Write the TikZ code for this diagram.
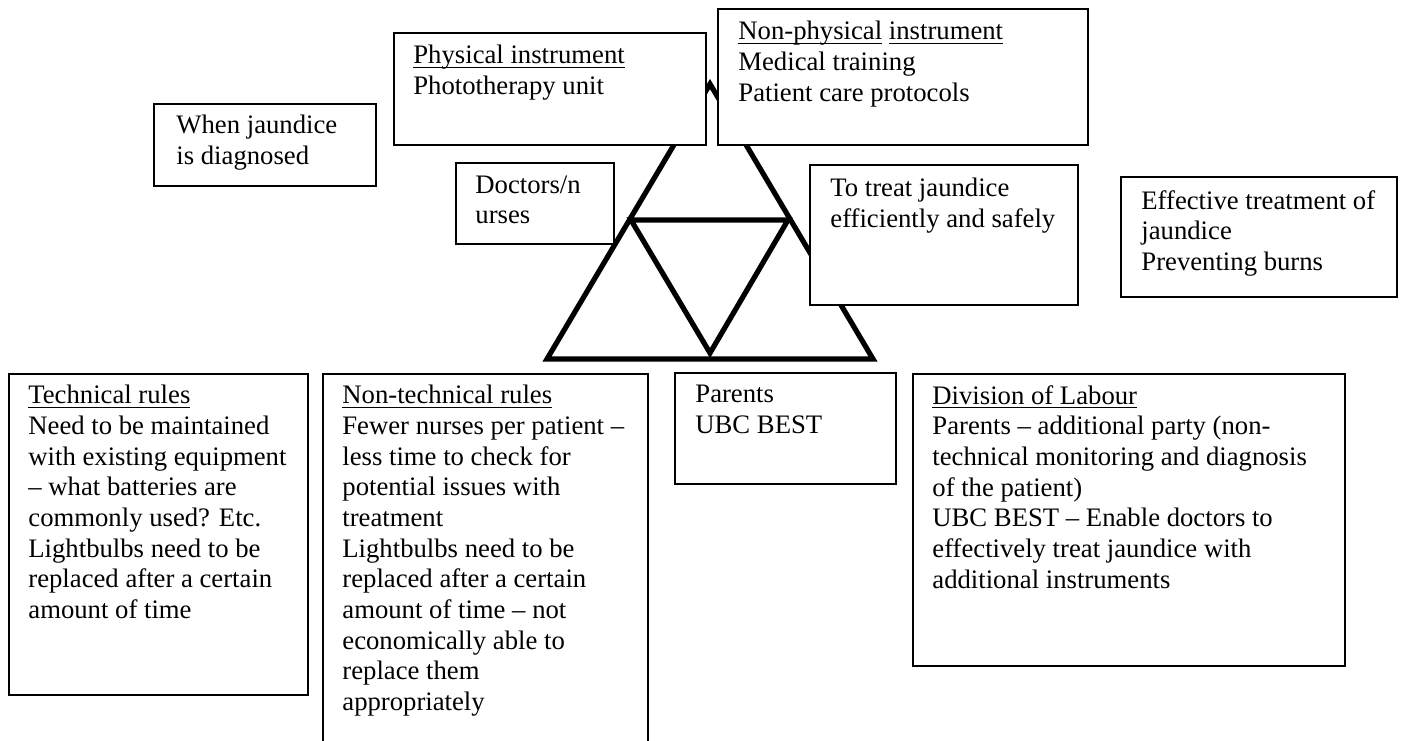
\documentclass[tikz,border=0pt]{standalone}
\usepackage{fontspec}
\setmainfont{Liberation Serif}
\newcommand\ulin[1]{\setbox0=\hbox{#1}\rlap{\rule[-2pt]{\wd0}{0.55pt}}\box0\relax}
\begin{document}
\begin{tikzpicture}[x=0.5pt,y=-0.5pt,
  panel/.style={draw, fill=white, line width=0.9pt, anchor=north west, inner sep=0pt},
  txt/.style={anchor=north west, inner sep=0pt, align=left,
    font=\fontsize{13.35pt}{15.33pt}\selectfont,
    execute at begin node={\rule{0pt}{11pt}}},
  tri/.style={line width=2.6pt, line join=miter}]
  \useasboundingbox[fill=white] (0,0) rectangle (1403,740);

  % activity triangle
  \coordinate (apex) at (710,84);
  \coordinate (bl) at (547,359);
  \coordinate (br) at (873,359);
  \coordinate (il) at (631,220);
  \coordinate (ir) at (788,220);
  \coordinate (ib) at (710,353);
  \draw[tri] (bl) -- (apex) -- (br) -- cycle;
  \draw[tri] (il) -- (ir) -- (ib) -- cycle;

  % panels
  \node[panel, minimum width=156pt, minimum height=56pt] (phys) at (393,32) {};
  \node[panel, minimum width=185pt, minimum height=68pt] (nonphys) at (717,8) {};
  \node[panel, minimum width=111pt, minimum height=41pt] (when) at (153,103) {};
  \node[panel, minimum width=79pt, minimum height=40.5pt] (doc) at (455,162) {};
  \node[panel, minimum width=134pt, minimum height=70pt] (treat) at (809,164) {};
  \node[panel, minimum width=138pt, minimum height=60pt] (effect) at (1120,176) {};
  \node[panel, minimum width=149.5pt, minimum height=160.5pt] (tech) at (8,373) {};
  \node[panel, minimum width=162.5pt, minimum height=195pt] (nontech) at (322,373) {};
  \node[panel, minimum width=110.5pt, minimum height=55.5pt] (parents) at (674,372) {};
  \node[panel, minimum width=216pt, minimum height=146pt] (div) at (912,373) {};

  % panel texts
  \node[txt] (phys-t) at (413,45) {\ulin{Physical instrument}\\Phototherapy unit};
  \node[txt] (nonphys-t) at (738,21) {\ulin{Non-physical} \ulin{instrument}\\Medical training\\Patient care protocols};
  \node[txt] (when-t) at (176,115) {When jaundice\\is diagnosed};
  \node[txt] (doc-t) at (475,175) {Doctors/n\\urses};
  \node[txt] (treat-t) at (830,178) {To treat jaundice\\efficiently and safely};
  \node[txt] (effect-t) at (1141,190) {Effective treatment of\\jaundice\\Preventing burns};
  \node[txt] (tech-t) at (28,385) {\ulin{Technical rules}\\Need to be maintained\\with existing equipment\\– what batteries are\\commonly used? Etc.\\Lightbulbs need to be\\replaced after a certain\\amount of time};
  \node[txt] (nontech-t) at (342,385) {\ulin{Non-technical rules}\\Fewer nurses per patient –\\less time to check for\\potential issues with\\treatment\\Lightbulbs need to be\\replaced after a certain\\amount of time – not\\economically able to\\replace them\\appropriately};
  \node[txt] (parents-t) at (695,385) {Parents\\UBC BEST};
  \node[txt] (div-t) at (932,385) {\ulin{Division of Labour}\\Parents – additional party (non-\\technical monitoring and diagnosis\\of the patient)\\UBC BEST – Enable doctors to\\effectively treat jaundice with\\additional instruments};
\end{tikzpicture}
\end{document}
